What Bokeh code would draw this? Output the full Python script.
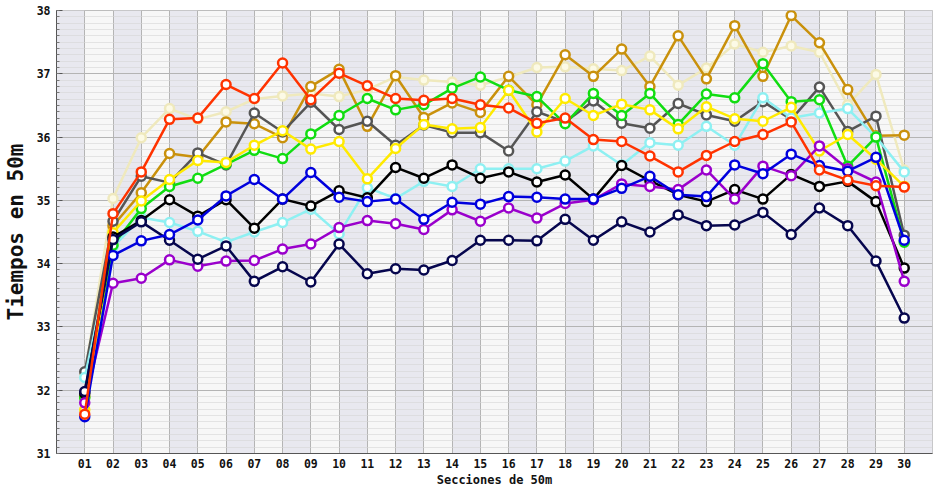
from bokeh.plotting import figure
from bokeh.models import FixedTicker, BoxAnnotation, Range1d, SingleIntervalTicker
from bokeh.embed import file_html
from bokeh.resources import INLINE

sections = list(range(1, 31))
section_labels = [f"{i:02d}" for i in sections]

beige = [32.25, 35.03, 35.99, 36.45, 36.28, 36.40, 36.60, 36.65, 36.69, 36.64, 36.75, 36.95, 36.90, 36.87, 36.82,
         36.95, 37.10, 37.11, 37.08, 37.05, 37.28, 36.82, 37.09, 37.47, 37.34, 37.44, 37.34, 36.51, 36.99, 35.48]
gold = [31.90, 34.60, 35.12, 35.74, 35.68, 36.24, 36.21, 35.99, 36.80, 37.07, 36.17, 36.97, 36.31, 36.54, 36.39,
        36.96, 36.51, 37.30, 36.96, 37.39, 36.80, 37.60, 36.92, 37.76, 36.96, 37.92, 37.49, 36.75, 36.02, 36.03]
red = [31.62, 34.79, 35.45, 36.28, 36.30, 36.83, 36.61, 37.17, 36.59, 37.01, 36.81, 36.61, 36.58, 36.61, 36.51,
       36.46, 36.22, 36.30, 35.96, 35.93, 35.70, 35.45, 35.71, 35.93, 36.04, 36.24, 35.48, 35.32, 35.23, 35.21]
gray = [32.29, 34.67, 35.38, 35.28, 35.75, 35.56, 36.38, 36.08, 36.55, 36.12, 36.25, 35.87, 36.19, 36.07, 36.07,
        35.78, 36.40, 36.24, 36.57, 36.22, 36.14, 36.53, 36.35, 36.25, 36.56, 36.28, 36.79, 36.09, 36.33, 34.45]
green = [31.88, 34.29, 34.87, 35.22, 35.35, 35.57, 35.79, 35.66, 36.05, 36.34, 36.61, 36.43, 36.51, 36.77, 36.95,
         36.74, 36.64, 36.21, 36.69, 36.34, 36.69, 36.20, 36.68, 36.62, 37.16, 36.56, 36.59, 35.54, 36.00, 34.34]
yellow = [31.69, 34.49, 34.99, 35.33, 35.63, 35.60, 35.87, 36.10, 35.81, 35.93, 35.34, 35.82, 36.20, 36.13, 36.15,
          36.74, 36.08, 36.61, 36.34, 36.52, 36.43, 36.13, 36.48, 36.29, 36.25, 36.47, 35.78, 36.04, 35.65, 35.22]
cyan = [32.20, 34.26, 34.73, 34.65, 34.51, 34.34, 34.50, 34.65, 34.86, 34.47, 35.20, 35.03, 35.30, 35.22, 35.50,
        35.50, 35.50, 35.62, 35.86, 35.56, 35.91, 35.87, 36.17, 35.87, 36.62, 36.30, 36.38, 36.45, 36.00, 35.45]
black = [31.95, 34.42, 34.68, 35.01, 34.75, 35.01, 34.56, 35.02, 34.91, 35.15, 35.04, 35.52, 35.35, 35.56, 35.35,
         35.45, 35.29, 35.40, 35.02, 35.55, 35.31, 35.09, 34.98, 35.17, 35.02, 35.41, 35.22, 35.30, 34.98, 33.93]
blue = [31.58, 34.13, 34.36, 34.46, 34.69, 35.07, 35.33, 35.02, 35.44, 35.05, 34.98, 35.02, 34.70, 34.97, 34.94,
        35.06, 35.05, 35.02, 35.02, 35.19, 35.38, 35.09, 35.06, 35.56, 35.42, 35.73, 35.55, 35.46, 35.68, 34.37]
purple = [31.80, 33.69, 33.77, 34.06, 33.96, 34.04, 34.05, 34.23, 34.31, 34.57, 34.68, 34.63, 34.54, 34.85, 34.67,
          34.88, 34.72, 34.95, 35.01, 35.26, 35.22, 35.17, 35.48, 35.02, 35.54, 35.39, 35.86, 35.50, 35.29, 33.72]
navy = [31.98, 34.38, 34.66, 34.37, 34.07, 34.28, 33.72, 33.95, 33.71, 34.31, 33.84, 33.92, 33.90, 34.05, 34.37,
        34.37, 34.36, 34.70, 34.37, 34.66, 34.50, 34.77, 34.60, 34.61, 34.81, 34.46, 34.88, 34.60, 34.04, 33.14]

series = [
    (beige, "#efe9bd", "#fcfae6"),
    (gold, "#c9910c", "white"),
    (gray, "#555555", "white"),
    (cyan, "#8ef0f2", "white"),
    (green, "#11dd11", "white"),
    (yellow, "#ffea00", "white"),
    (black, "#000000", "white"),
    (purple, "#9a00cc", "white"),
    (navy, "#06064e", "white"),
    (blue, "#0000dd", "white"),
    (red, "#ff3300", "white"),
]

FONT = "DejaVu Sans Mono"

p = figure(width=933, height=489, output_backend="svg", toolbar_location=None,
           x_range=Range1d(0, 31), y_range=Range1d(31, 38),
           min_border_left=50, min_border_right=1, min_border_top=10, min_border_bottom=30)

p.background_fill_color = "#f7f7f7"
p.border_fill_color = "white"
p.outline_line_color = "#bdbdbd"

bands = []
for i in range(0, 31, 2):
    bands.append(BoxAnnotation(left=i, right=i + 1, fill_color="#e8e8ef", fill_alpha=1.0,
                               line_alpha=0, level="underlay"))
p.center = bands + list(p.center)

p.xgrid.ticker = FixedTicker(ticks=sections)
p.xgrid.grid_line_color = "#b4b4b4"
p.ygrid.grid_line_color = "#b4b4b4"
p.ygrid.minor_grid_line_color = "#d6d6d6"
p.ygrid.minor_grid_line_alpha = 0.6

p.xaxis.ticker = FixedTicker(ticks=sections)
p.xaxis.major_label_overrides = {i: lab for i, lab in zip(sections, section_labels)}
p.xaxis.major_tick_in = 0
p.xaxis.major_tick_out = 0
p.xaxis.minor_tick_in = 0
p.xaxis.minor_tick_out = 0
p.yaxis.ticker = SingleIntervalTicker(interval=1, num_minor_ticks=10)
p.yaxis.major_tick_in = 6
p.yaxis.major_tick_out = 0
p.yaxis.minor_tick_in = 3
p.yaxis.minor_tick_out = 0

for ax in (p.xaxis[0], p.yaxis[0]):
    ax.axis_line_color = "#555555"
    ax.major_tick_line_color = "#555555"
    ax.minor_tick_line_color = "#777777"
    ax.major_label_text_font = FONT
    ax.major_label_text_font_style = "bold"
    ax.major_label_text_font_size = "11.5px"
    ax.major_label_text_color = "#111111"
    ax.axis_label_text_font = FONT
    ax.axis_label_text_font_style = "bold"
    ax.axis_label_text_color = "#111111"

p.xaxis.axis_label = "Secciones de 50m"
p.xaxis.axis_label_text_font_size = "12px"
p.xaxis.major_label_standoff = 5
p.xaxis.axis_label_standoff = 2
p.yaxis.axis_label = "Tiempos en 50m"
p.yaxis.axis_label_text_font_size = "21px"
p.yaxis.major_label_standoff = 6
p.yaxis.axis_label_standoff = 6

for vals, col, fill in series:
    p.line(sections, vals, line_color=col, line_width=2.5)
    p.scatter(sections, vals, marker="circle", size=9, fill_color=fill,
              line_color=col, line_width=2.5)

open("out.html", "w").write(file_html(p, INLINE))
